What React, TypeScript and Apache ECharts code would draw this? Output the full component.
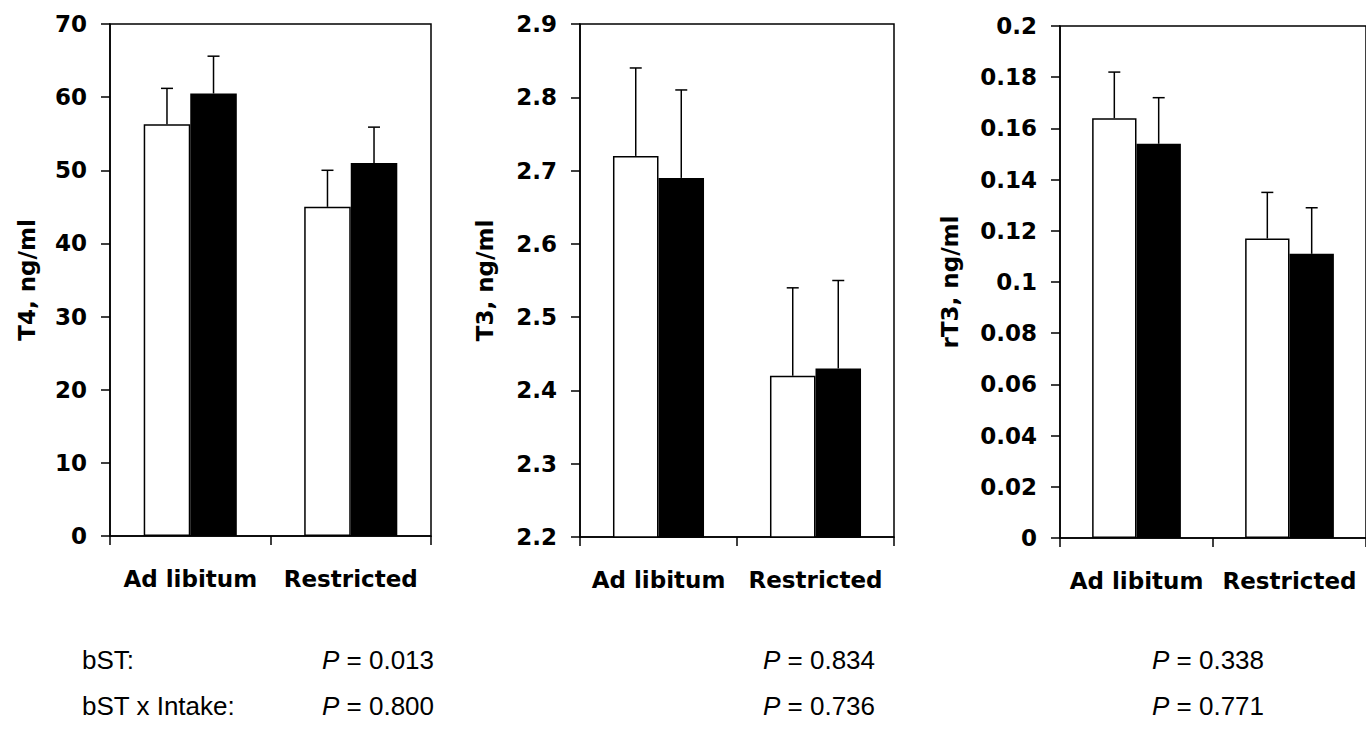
import React, { useEffect, useRef } from "react";
import * as echarts from "echarts";

const categories = ["Ad libitum", "Restricted"];

// T4 (ng/ml)
const t4Control = [56.3, 45.0];
const t4ControlErr = [4.9, 5.0];
const t4BST = [60.5, 51.0];
const t4BSTErr = [5.1, 4.9];

// T3 (ng/ml)
const t3Control = [2.72, 2.42];
const t3ControlErr = [0.12, 0.12];
const t3BST = [2.69, 2.43];
const t3BSTErr = [0.12, 0.12];

// rT3 (ng/ml)
const rt3Control = [0.164, 0.117];
const rt3ControlErr = [0.018, 0.018];
const rt3BST = [0.154, 0.111];
const rt3BSTErr = [0.018, 0.018];

const yNames = ["T4, ng/ml", "T3, ng/ml", "rT3, ng/ml"];
const yMins = [0, 2.2, 0];
const yMaxs = [70, 2.9, 0.2];
const yIntervals = [10, 0.1, 0.02];
const yDecimals = [0, 1, 2];

const pLabels = ["bST:", "bST x Intake:"];
const pBST = ["0.013", "0.834", "0.338"];
const pInteraction = ["0.800", "0.736", "0.771"];

const BAR_FRAC = 0.29;
const FONT = "DejaVu Sans";
const PFONT = "Liberation Sans";

const grids = [
  { left: 110, top: 24, width: 321, height: 512 },
  { left: 580, top: 24, width: 314, height: 513 },
  { left: 1060, top: 26, width: 315, height: 512 },
];
const nameGaps = [72, 84, 99];
const pX = [322, 763, 1152];
const rowY = [660, 706];

function errRender(sign: number) {
  return (params: any, api: any) => {
    const cat = api.value(0);
    const v = api.value(1);
    const e = api.value(2);
    const base = api.coord([cat, v]);
    const top = api.coord([cat, v + e]);
    const band = api.size([1, 0])[0];
    const x = base[0] + (sign * band * BAR_FRAC) / 2;
    return {
      type: "group",
      children: [
        {
          type: "line",
          shape: { x1: x, y1: base[1], x2: x, y2: top[1] },
          style: { stroke: "#000", lineWidth: 1.5 },
        },
        {
          type: "line",
          shape: { x1: x - 6, y1: top[1], x2: x + 6, y2: top[1] },
          style: { stroke: "#000", lineWidth: 1.5 },
        },
      ],
    };
  };
}

export default function App() {
  const ref = useRef<HTMLDivElement>(null);
  useEffect(() => {
    if (!ref.current) return;
    const chart = echarts.init(ref.current, null, { renderer: "svg" });
    const controls = [t4Control, t3Control, rt3Control];
    const controlErrs = [t4ControlErr, t3ControlErr, rt3ControlErr];
    const bsts = [t4BST, t3BST, rt3BST];
    const bstErrs = [t4BSTErr, t3BSTErr, rt3BSTErr];

    const series: any[] = [];
    grids.forEach((_, i) => {
      series.push({
        type: "bar",
        name: "Control",
        xAxisIndex: i,
        yAxisIndex: i,
        data: controls[i],
        barWidth: BAR_FRAC * 100 + "%",
        barGap: "0%",
        itemStyle: { color: "#fff", borderColor: "#000", borderWidth: 1.5 },
        z: 2,
      });
      series.push({
        type: "bar",
        name: "bST",
        xAxisIndex: i,
        yAxisIndex: i,
        data: bsts[i],
        barWidth: BAR_FRAC * 100 + "%",
        barGap: "0%",
        itemStyle: { color: "#000", borderColor: "#000", borderWidth: 1.5 },
        z: 2,
      });
      series.push({
        type: "custom",
        xAxisIndex: i,
        yAxisIndex: i,
        renderItem: errRender(-1),
        data: categories.map((_, j) => [j, controls[i][j], controlErrs[i][j]]),
        encode: { x: 0, y: 1 },
        z: 3,
      });
      series.push({
        type: "custom",
        xAxisIndex: i,
        yAxisIndex: i,
        renderItem: errRender(1),
        data: categories.map((_, j) => [j, bsts[i][j], bstErrs[i][j]]),
        encode: { x: 0, y: 1 },
        z: 3,
      });
    });

    const graphic: any[] = [];
    pLabels.forEach((lab, r) => {
      graphic.push({
        type: "text",
        x: 82,
        y: rowY[r],
        style: {
          text: lab,
          fill: "#000",
          fontFamily: PFONT,
          fontSize: 26,
          verticalAlign: "middle",
        },
      });
    });
    [pBST, pInteraction].forEach((row, r) => {
      row.forEach((val, i) => {
        graphic.push({
          type: "text",
          x: pX[i],
          y: rowY[r],
          style: {
            text: "{i|P} = " + val,
            fill: "#000",
            fontFamily: PFONT,
            fontSize: 26,
            verticalAlign: "middle",
            rich: {
              i: { fontStyle: "italic", fontFamily: PFONT, fontSize: 26, fill: "#000" },
            },
          },
        });
      });
    });

    chart.setOption({
      animation: false,
      textStyle: { fontFamily: FONT },
      grid: grids.map((g) => ({
        ...g,
        show: true,
        borderColor: "#000",
        borderWidth: 1.5,
        backgroundColor: "transparent",
      })),
      xAxis: grids.map((_, i) => ({
        type: "category",
        gridIndex: i,
        data: categories,
        axisLine: { lineStyle: { color: "#000", width: 1.5 } },
        axisTick: { show: true, length: 9, lineStyle: { color: "#000", width: 1.5 } },
        axisLabel: {
          interval: 0,
          color: "#000",
          fontWeight: "bold",
          fontSize: 23,
          fontFamily: FONT,
          margin: 31,
        },
      })),
      yAxis: grids.map((_, i) => ({
        type: "value",
        gridIndex: i,
        min: yMins[i],
        max: yMaxs[i],
        interval: yIntervals[i],
        name: yNames[i],
        nameLocation: "middle",
        nameRotate: 90,
        nameGap: nameGaps[i],
        nameTextStyle: { color: "#000", fontWeight: "bold", fontSize: 23, fontFamily: FONT },
        axisLine: { show: true, lineStyle: { color: "#000", width: 1.5 } },
        axisTick: { show: true, length: 9, lineStyle: { color: "#000", width: 1.5 } },
        splitLine: { show: false },
        axisLabel: {
          color: "#000",
          fontWeight: "bold",
          fontSize: 23,
          fontFamily: FONT,
          margin: 23,
          formatter: (v: number) => String(+v.toFixed(yDecimals[i])),
        },
      })),
      series,
      graphic,
    });
    return () => chart.dispose();
  }, []);
  return (
    <div
      ref={ref}
      style={{ position: "absolute", left: 0, top: 0, width: 1366, height: 736, background: "#fff" }}
    />
  );
}
